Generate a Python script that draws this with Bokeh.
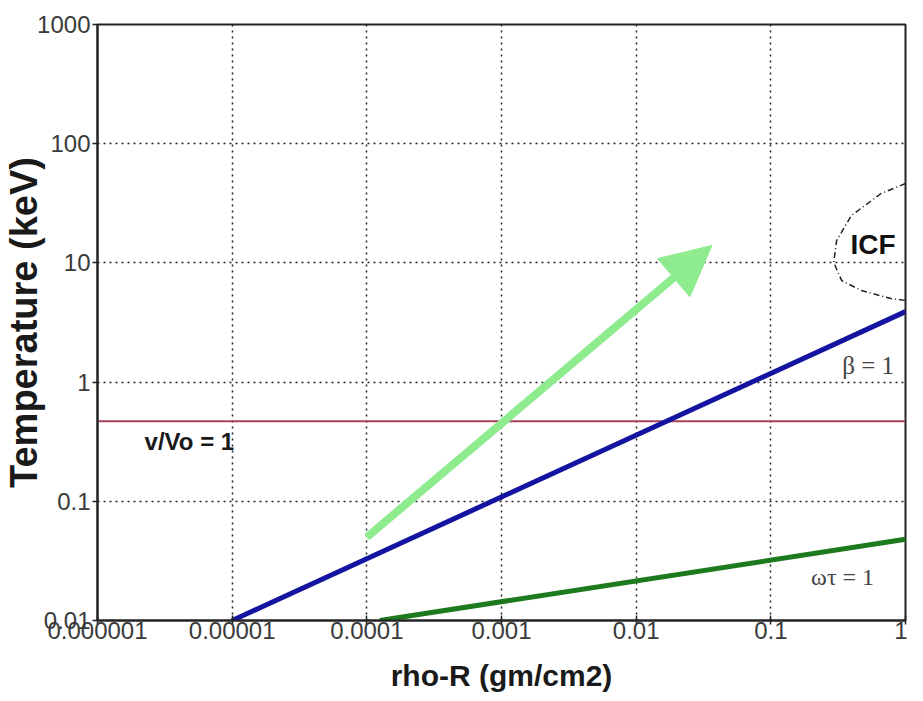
from bokeh.plotting import figure
from bokeh.models import FixedTicker, Arrow, NormalHead
from bokeh.core.properties import value
from bokeh.embed import file_html
from bokeh.resources import INLINE

# ---- data ----
xticks = [1e-6, 1e-5, 1e-4, 1e-3, 1e-2, 1e-1, 1.0]
xtick_labels = ["0.000001", "0.00001", "0.0001", "0.001", "0.01", "0.1", "1"]
yticks = [0.01, 0.1, 1.0, 10.0, 100.0, 1000.0]
ytick_labels = ["0.01", "0.1", "1", "10", "100", "1000"]

beta_x = [1e-5, 1.0]          # beta = 1 line
beta_y = [0.01, 3.9]
omega_x = [1.25e-4, 1.0]      # omega tau = 1 line
omega_y = [0.01, 0.048]
vvo_x = [1e-6, 1.0]           # v/Vo = 1 line
vvo_y = [0.47, 0.47]
arrow_x = [1e-4, 0.0365]      # light green arrow
arrow_y = [0.05, 14.0]
icf_x = [1.0, 0.658, 0.397, 0.308, 0.293, 0.336, 0.47, 0.778, 1.0]
icf_y = [46.3, 38.2, 25.0, 15.4, 10.1, 7.1, 5.87, 5.02, 4.84]

labels_x = [0.574, 0.528, 0.341, 4.81e-6]
labels_y = [14.3, 1.38, 0.023, 0.318]

SANS = "Liberation Sans"
SERIF = "Liberation Serif"

p = figure(width=907, height=700, x_axis_type="log", y_axis_type="log",
           x_range=(xticks[0], xticks[-1]), y_range=(yticks[0], yticks[-1]),
           output_backend="svg", toolbar_location=None,
           min_border_left=90, min_border_right=2, min_border_top=24,
           min_border_bottom=80)
p.background_fill_color = "white"
p.border_fill_color = "white"
p.outline_line_color = "#222222"
p.outline_line_width = 2

# axes
p.xaxis.ticker = FixedTicker(ticks=xticks)
p.yaxis.ticker = FixedTicker(ticks=yticks)
p.xaxis.major_label_overrides = {t: l for t, l in zip(xticks, xtick_labels)}
p.yaxis.major_label_overrides = {t: l for t, l in zip(yticks, ytick_labels)}
for ax in (p.xaxis[0], p.yaxis[0]):
    ax.axis_line_color = "#222222"
    ax.axis_line_width = 2
    ax.major_tick_line_color = "#222222"
    ax.major_tick_line_width = 1.5
    ax.minor_tick_line_color = None
    ax.major_label_text_font = SANS
    ax.major_label_text_font_size = "24px"
    ax.major_label_text_color = "#3a3a3a"
    ax.axis_label_text_font = SANS
    ax.axis_label_text_font_style = "bold"
    ax.axis_label_text_color = "#1a1a1a"

p.xaxis.major_tick_in = 5
p.xaxis.major_tick_out = 4
p.xaxis.major_label_standoff = -3
p.xaxis.axis_label = "rho-R (gm/cm2)"
p.xaxis.axis_label_text_font_size = "30px"
p.xaxis.axis_label_standoff = 17

p.yaxis.major_tick_in = 0
p.yaxis.major_tick_out = 5
p.yaxis.major_label_standoff = 2
p.yaxis.axis_label = "Temperature (keV)"
p.yaxis.axis_label_text_font_size = "38px"
p.yaxis.axis_label_standoff = -11

# grid
for g in (p.xgrid[0], p.ygrid[0]):
    g.grid_line_color = "#222222"
    g.grid_line_width = 1.5
    g.grid_line_dash = "2 4"

# lines
p.line(vvo_x, vvo_y, line_color="#A8405A", line_width=2)
p.line(beta_x, beta_y, line_color="#1414A0", line_width=5)
p.line(omega_x, omega_y, line_color="#1E7A1E", line_width=5)
p.line(icf_x, icf_y, line_color="#222222", line_width=1.5, line_dash="6 3 1 3")

arrow = Arrow(end=NormalHead(size=50, fill_color="#8EEB8E", line_color="#8EEB8E"),
              x_start=arrow_x[0], y_start=arrow_y[0],
              x_end=arrow_x[1], y_end=arrow_y[1],
              line_color="#8EEB8E", line_width=8)
p.add_layout(arrow)

# text labels
p.text(x=[labels_x[0]], y=[labels_y[0]], text=["ICF"], text_font=value(SANS),
       text_font_style="bold", text_font_size="28px", text_color="#111111",
       text_align="center", text_baseline="middle")
p.text(x=[labels_x[1]], y=[labels_y[1]], text=["\u03b2 = 1"], text_font=value(SERIF),
       text_font_size="25px", text_color="#444444",
       text_align="center", text_baseline="middle")
p.text(x=[labels_x[2]], y=[labels_y[2]], text=["\u03c9\u03c4 = 1"], text_font=value(SERIF),
       text_font_size="24px", text_color="#444444",
       text_align="center", text_baseline="middle")
p.text(x=[labels_x[3]], y=[labels_y[3]], text=["v/Vo = 1"], text_font=value(SANS),
       text_font_style="bold", text_font_size="24px", text_color="#1a1a1a",
       text_align="center", text_baseline="middle")

open("out.html", "w").write(file_html(p, INLINE))
